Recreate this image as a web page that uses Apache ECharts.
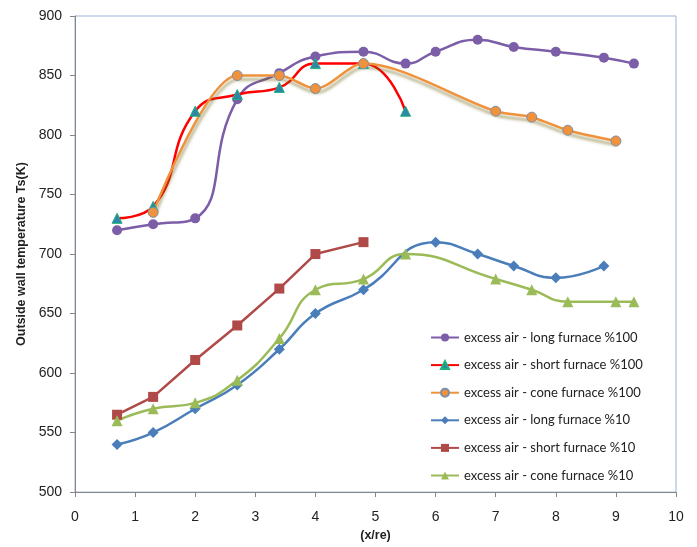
<!DOCTYPE html>
<html>
<head>
<meta charset="utf-8">
<script src="https://cdn.jsdelivr.net/npm/echarts@6/dist/echarts.min.js"></script>
<style>html,body{margin:0;padding:0;background:#fff}#c{width:697px;height:547px}</style>
</head>
<body>
<div id="c"></div>
<script>
// x positions (x/re)
var xLong100 = [0.7, 1.3, 2, 2.7, 3.4, 4, 4.8, 5.5, 6, 6.7, 7.3, 8, 8.8, 9.3];
var yLong100 = [720, 725, 730, 830, 852, 866, 870, 860, 870, 880, 874, 870, 865, 860];
var xShort100 = [0.7, 1.3, 2, 2.7, 3.4, 4, 4.8, 5.5];
var yShort100 = [730, 740, 820, 834, 840, 860, 860, 820];
var xCone100 = [1.3, 2.7, 3.4, 4, 4.8, 7, 7.6, 8.2, 9];
var yCone100 = [735, 850, 850, 839, 860, 820, 815, 804, 795];
var xLong10 = [0.7, 1.3, 2, 2.7, 3.4, 4, 4.8, 6, 6.7, 7.3, 8, 8.8];
var yLong10 = [540, 550, 570, 590, 620, 650, 670, 710, 700, 690, 680, 690];
var xShort10 = [0.7, 1.3, 2, 2.7, 3.4, 4, 4.8];
var yShort10 = [565, 580, 611, 640, 671, 700, 710];
var xCone10 = [0.7, 1.3, 2, 2.7, 3.4, 4, 4.8, 5.5, 7, 7.6, 8.2, 9, 9.3];
var yCone10 = [560, 570, 575, 594, 629, 670, 679, 700, 679, 670, 660, 660, 660];
var seriesNames = [
  'excess air - long furnace %100',
  'excess air - short furnace %100',
  'excess air - cone furnace %100',
  'excess air - long furnace %10',
  'excess air - short furnace %10',
  'excess air - cone furnace %10'
];
var xTicks = [0, 1, 2, 3, 4, 5, 6, 7, 8, 9, 10];
var yTicks = [500, 550, 600, 650, 700, 750, 800, 850, 900];

function pairs(xs, ys) { return xs.map(function (x, i) { return [x, ys[i]]; }); }

var chart = echarts.init(document.getElementById('c'), null, {renderer: 'canvas'});
var font = 'Liberation Sans, Arial, sans-serif';
chart.setOption({
  animation: false,
  backgroundColor: '#fff',
  grid: {left: 75, right: 21, top: 16, bottom: 54, show: true, borderColor: '#95b3d7', borderWidth: 1},
  xAxis: {
    type: 'value', min: xTicks[0], max: xTicks[xTicks.length - 1], interval: 1,
    name: '(x/re)', nameLocation: 'middle', nameGap: 36,
    nameTextStyle: {fontFamily: font, fontWeight: 'bold', fontSize: 12.5, color: '#222'},
    axisLine: {lineStyle: {color: '#868686'}},
    axisTick: {show: true, length: 5, lineStyle: {color: '#868686'}},
    axisLabel: {fontFamily: font, fontSize: 14, color: '#222', margin: 18},
    splitLine: {show: false}
  },
  yAxis: {
    type: 'value', min: yTicks[0], max: yTicks[yTicks.length - 1], interval: 50,
    name: 'Outside wall temperature Ts(K)', nameLocation: 'middle', nameGap: 46,
    nameTextStyle: {fontFamily: font, fontWeight: 'bold', fontSize: 12.5, color: '#222'},
    axisLine: {show: true, lineStyle: {color: '#868686'}},
    axisTick: {show: true, length: 5, lineStyle: {color: '#868686'}},
    axisLabel: {fontFamily: font, fontSize: 14, color: '#222', margin: 13},
    splitLine: {show: false}
  },
  legend: {
    orient: 'vertical', left: 425, top: 326, itemWidth: 28, itemHeight: 10, itemGap: 14.6,
    textStyle: {fontFamily: 'Lato, ' + font, fontSize: 13, color: '#222'},
    data: seriesNames
  },
  series: [
    {name: seriesNames[0], type: 'line', smooth: 0.5, data: pairs(xLong100, yLong100),
     symbol: 'circle', symbolSize: 10,
     lineStyle: {color: '#7b5ea7', width: 2.5}, itemStyle: {color: '#7b5ea7'}},
    {name: seriesNames[1], type: 'line', smooth: 0.5, data: pairs(xShort100, yShort100),
     symbol: 'triangle', symbolSize: 10,
     lineStyle: {color: '#ff0000', width: 2.5}, itemStyle: {color: '#2f86a6', borderColor: '#20b07c', borderWidth: 1}},
    {name: seriesNames[2], type: 'line', smooth: 0.3, data: pairs(xCone100, yCone100),
     symbol: 'circle', symbolSize: 10,
     lineStyle: {color: '#f0913c', width: 2.5, shadowColor: 'rgba(110,100,20,0.55)', shadowBlur: 3, shadowOffsetY: 4, shadowOffsetX: 1},
     itemStyle: {color: '#f0913c', borderColor: '#7f8fa9', borderWidth: 1}},
    {name: seriesNames[3], type: 'line', smooth: 0.5, data: pairs(xLong10, yLong10),
     symbol: 'diamond', symbolSize: 11,
     lineStyle: {color: '#4a7ebb', width: 2.5}, itemStyle: {color: '#4a7ebb'}},
    {name: seriesNames[4], type: 'line', smooth: false, data: pairs(xShort10, yShort10),
     symbol: 'rect', symbolSize: 10,
     lineStyle: {color: '#b04a48', width: 2.5}, itemStyle: {color: '#b04a48'}},
    {name: seriesNames[5], type: 'line', smooth: 0.5, data: pairs(xCone10, yCone10),
     symbol: 'triangle', symbolSize: 11,
     lineStyle: {color: '#9bbb59', width: 2.5}, itemStyle: {color: '#9bbb59'}}
  ]
});
</script>
</body>
</html>
